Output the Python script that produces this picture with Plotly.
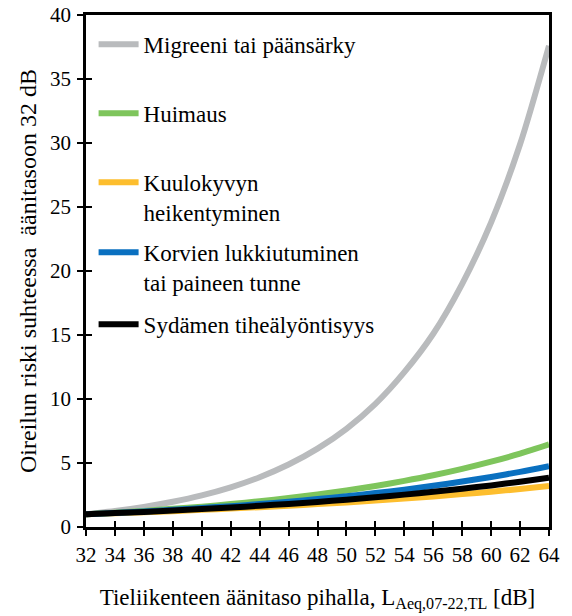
import plotly.graph_objects as go

# ---- data ----
noise_db = [32, 34, 36, 38, 40, 42, 44, 46, 48, 50, 52, 54, 56, 58, 60, 62, 64]

series_names = [
    "Migreeni tai päänsärky",
    "Huimaus",
    "Kuulokyvyn<br>heikentyminen",
    "Korvien lukkiutuminen<br>tai paineen tunne",
    "Sydämen tiheälyöntisyys",
]

migreeni = [1.0, 1.25, 1.57, 1.97, 2.47, 3.10, 3.89, 4.88, 6.12, 7.67, 9.62,
            12.1, 15.1, 19.0, 23.8, 29.9, 37.6]
huimaus = [1.0, 1.12, 1.26, 1.42, 1.59, 1.79, 2.01, 2.26, 2.54, 2.85, 3.20,
           3.60, 4.04, 4.54, 5.10, 5.73, 6.45]
kuulokyky = [1.0, 1.08, 1.16, 1.24, 1.34, 1.44, 1.55, 1.66, 1.79, 1.92, 2.07,
             2.22, 2.39, 2.57, 2.76, 2.97, 3.20]
korvat = [1.0, 1.10, 1.21, 1.34, 1.48, 1.63, 1.79, 1.98, 2.18, 2.40, 2.65,
          2.92, 3.22, 3.55, 3.91, 4.31, 4.75]
sydan = [1.0, 1.09, 1.18, 1.29, 1.40, 1.52, 1.66, 1.80, 1.96, 2.13, 2.32,
         2.53, 2.75, 2.99, 3.25, 3.54, 3.85]

series_values = [migreeni, huimaus, kuulokyky, korvat, sydan]
series_colors = ["#B9BBBD", "#7EC55C", "#FDBE2E", "#0A70C0", "#000000"]

x_ticks = list(range(32, 65, 2))
y_ticks = list(range(0, 41, 5))

FONT = "Liberation Serif"

# legend box positions (paper coordinates), one legend per series
legend_ids = ["legend", "legend2", "legend3", "legend4", "legend5"]
legend_y = [0.9846, 0.8498, 0.7150, 0.5783, 0.4377]

fig = go.Figure()
for name, vals, col, lid in zip(series_names, series_values, series_colors, legend_ids):
    fig.add_trace(go.Scatter(
        x=noise_db, y=vals, mode="lines", name=name,
        line=dict(color=col, width=6, shape="spline", smoothing=0.8),
        legend=lid, hoverinfo="skip",
    ))

# invisible trace to host the overlay axes (for crossing tick marks)
fig.add_trace(go.Scatter(x=[None], y=[None], xaxis="x2", yaxis="y2",
                         showlegend=False, hoverinfo="skip"))

axis_common = dict(showgrid=False, zeroline=False, tickcolor="black",
                   tickwidth=2, ticklen=6, automargin=False)

legend_layout = {}
for lid, ly in zip(legend_ids, legend_y):
    legend_layout[lid] = dict(
        x=0.0164, y=ly, xanchor="left", yanchor="top",
        bgcolor="rgba(0,0,0,0)", borderwidth=0,
        font=dict(family=FONT, size=23, color="black"),
        valign="top", itemwidth=40,
    )

fig.update_layout(
    template="none",
    width=572, height=616,
    margin=dict(l=86, r=23, t=15, b=89, autoexpand=False),
    paper_bgcolor="white", plot_bgcolor="white",
    font=dict(family=FONT, size=21, color="black"),
    showlegend=True,
    **legend_layout,
    xaxis=dict(
        range=[32, 64], tickvals=x_ticks, ticktext=[str(v) for v in x_ticks],
        tickfont=dict(family=FONT, size=21, color="black"),
        showline=True, linecolor="black", linewidth=2.5, mirror=True,
        ticks="outside", ticklabelstandoff=1,
        title=dict(text="Tieliikenteen äänitaso pihalla, L<sub>Aeq,07-22,TL</sub> [dB]",
                   standoff=23, font=dict(family=FONT, size=23, color="black")),
        **axis_common,
    ),
    yaxis=dict(
        range=[0, 40], tickvals=y_ticks, ticktext=[str(v) for v in y_ticks],
        tickfont=dict(family=FONT, size=21, color="black"),
        showline=True, linecolor="black", linewidth=2.5, mirror=True,
        ticks="outside", ticklabelstandoff=2,
        title=dict(text="Oireilun riski suhteessa \u00a0äänitasoon 32 dB",
                   standoff=7, font=dict(family=FONT, size=24, color="black")),
        **axis_common,
    ),
    xaxis2=dict(range=[32, 64], tickvals=x_ticks, overlaying="x", anchor="y",
                side="bottom", ticks="inside", showticklabels=False,
                showline=False, **axis_common),
    yaxis2=dict(range=[0, 40], tickvals=y_ticks, overlaying="y", anchor="x",
                side="left", ticks="inside", showticklabels=False,
                showline=False, **axis_common),
)

fig.write_html("out.html")
